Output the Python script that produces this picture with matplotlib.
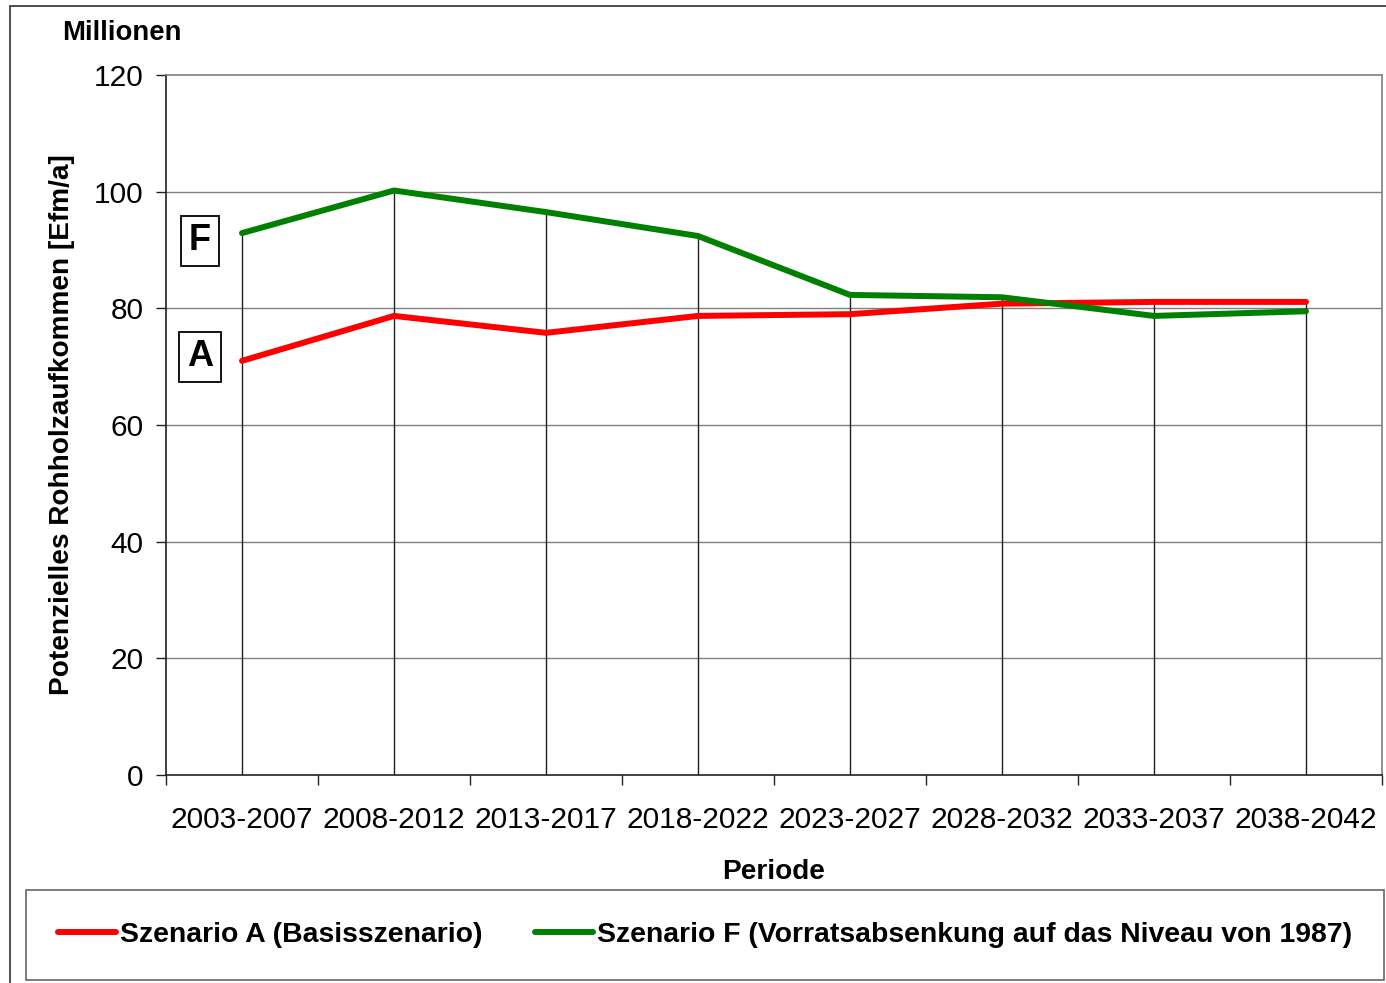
import numpy as np
import matplotlib
matplotlib.use("Agg")
import matplotlib.pyplot as plt
from matplotlib.patches import Rectangle

plt.rcParams['font.family'] = ['Liberation Sans', 'DejaVu Sans']

perioden = ["2003-2007", "2008-2012", "2013-2017", "2018-2022",
            "2023-2027", "2028-2032", "2033-2037", "2038-2042"]
szenario_a = [71.0, 78.7, 75.8, 78.7, 79.0, 80.8, 81.1, 81.1]
szenario_f = [92.9, 100.2, 96.5, 92.4, 82.3, 81.9, 78.7, 79.5]
label_a = "Szenario A (Basisszenario)"
label_f = "Szenario F (Vorratsabsenkung auf das Niveau von 1987)"

W, H = 1386, 983
fig = plt.figure(figsize=(W / 100, H / 100), dpi=100)
ax = fig.add_axes([166 / W, 1 - 775 / H, (1382 - 166) / W, (775 - 75) / H])

x = np.arange(len(perioden))

# horizontal gridlines
for yv in range(20, 120, 20):
    ax.axhline(yv, color='#808080', lw=1.0, zorder=1)

# drop lines from top point to axis
top = np.maximum(szenario_a, szenario_f)
ax.vlines(x, 0, top, colors='#202020', lw=1.0, zorder=2)

ax.plot(x, szenario_a, color='#ff0000', lw=4.3, solid_capstyle='round', zorder=3, label=label_a)
ax.plot(x, szenario_f, color='#008000', lw=4.3, solid_capstyle='round', zorder=3, label=label_f)

ax.set_xlim(-0.5, len(perioden) - 0.5)
ax.set_ylim(0, 120)
ax.set_yticks(range(0, 121, 20))
ax.set_yticklabels([str(v) for v in range(0, 121, 20)], fontsize=21.5)
ax.set_xticks(x)
ax.set_xticklabels(perioden, fontsize=21.5)
ax.set_xticks(np.arange(-0.5, len(perioden), 1), minor=True)
ax.tick_params(axis='x', which='major', length=0, pad=22)
ax.tick_params(axis='x', which='minor', length=7, width=1, color='#202020')
ax.tick_params(axis='y', length=7, width=1, color='#202020', pad=9)

for s in ['left', 'bottom']:
    ax.spines[s].set_color('#202020')
    ax.spines[s].set_linewidth(1.2)
for s in ['top', 'right']:
    ax.spines[s].set_color('#808080')
    ax.spines[s].set_linewidth(1.2)

ax.set_xlabel("Periode", fontsize=20.2, fontweight='bold', labelpad=18)
ax.set_ylabel("Potenzielles Rohholzaufkommen [Efm/a]", fontsize=20.2, fontweight='bold', labelpad=14)
fig.text(122 / W, 1 - 33 / H, "Millionen", fontsize=19.8, fontweight='bold', ha='center', va='center')

# scenario markers in boxes
for txt, yc in [("F", 241), ("A", 357)]:
    fig.text(200 / W, 1 - yc / H, txt, fontsize=26, fontweight='bold', ha='center', va='center',
             bbox=dict(boxstyle='square,pad=0.22', fc='white', ec='black', lw=1.3))

# outer frame
fig.patches.append(Rectangle((10 / W, -0.1), 1.2, 1 - 6 / H + 0.1, transform=fig.transFigure,
                             fill=False, ec='#404040', lw=1.3))

leg = fig.legend(loc='center', bbox_to_anchor=(705 / W, 1 - 935 / H), ncol=2,
                 prop={'size': 20.4, 'weight': 'bold'}, frameon=True, fancybox=False,
                 edgecolor='#404040', handlelength=2.05, handletextpad=0.14,
                 columnspacing=1.84, borderpad=1.12, borderaxespad=0)
leg.get_frame().set_linewidth(1.2)
for h in leg.get_lines():
    h.set_linewidth(4.3)
    h.set_solid_capstyle('round')

fig.savefig("out.png", dpi=100)
